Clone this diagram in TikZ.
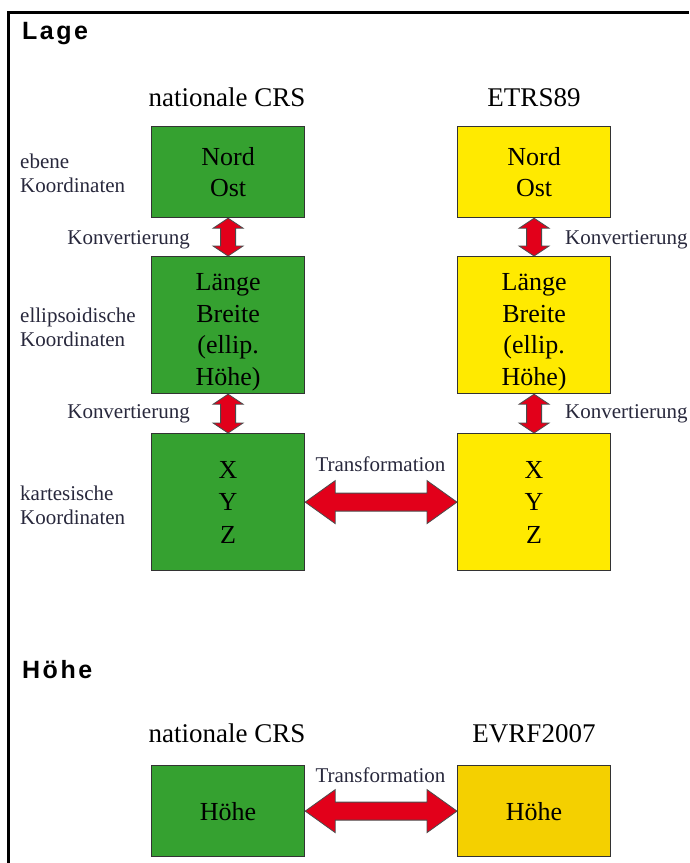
\documentclass[tikz,border=0pt]{standalone}
\usepackage{fontspec}
\setmainfont{Liberation Serif}
\newfontfamily\titlefont[LetterSpace=10]{Liberation Sans Bold}
\usetikzlibrary{calc}
\definecolor{boxgreen}{RGB}{53,161,48}
\definecolor{boxyellow}{RGB}{255,234,0}
\definecolor{boxgold}{RGB}{244,208,0}
\definecolor{arrowred}{RGB}{226,0,26}
\definecolor{labelcol}{RGB}{40,40,60}
\begin{document}
\begin{tikzpicture}[x=1pt,y=-1pt,
  crsbox/.style={draw=black!80,line width=1.2pt,minimum width=153pt,inner sep=0pt,anchor=north west,align=center,font=\fontsize{26}{31.5}\selectfont},
  gbox/.style={crsbox,fill=boxgreen},
  ybox/.style={crsbox,fill=boxyellow},
  boxtext/.style={inner sep=0pt,align=center,font=\fontsize{26}{31.5}\selectfont},
  head/.style={font=\fontsize{27}{30}\selectfont,anchor=base},
  lbl/.style={font=\fontsize{21}{24}\selectfont,text=labelcol,inner sep=0pt},
  sect/.style={font=\titlefont\fontsize{25}{27}\selectfont,anchor=base west,inner sep=0pt},
  redarrow/.style={fill=arrowred,draw=black!70,line width=0.8pt,line join=miter}
]
\useasboundingbox (0,0) rectangle (689,863);
% frame
\draw[line width=3pt] (8,863) -- (8,12) -- (689,12);

\node[sect] (lage) at (22,39) {Lage};
\node[sect] (hoehe) at (22,678) {Höhe};

% column heads
\node[head] (hn) at (227,106) {nationale CRS};
\node[head] (he) at (534,106) {ETRS89};

% boxes
\node[gbox,minimum height=91pt] (g1) at (151,126) {Nord\\Ost};
\node[gbox,minimum height=137pt] (g2) at (151,256) {};
\node[boxtext] (g2t) at ($(g2.center)+(0,7)$) {Länge\\Breite\\(ellip.\\Höhe)};
\node[gbox,minimum height=137pt] (g3) at (151,433) {X\\[1pt]Y\\[1pt]Z};
\node[ybox,minimum height=91pt] (y1) at (457,126) {Nord\\Ost};
\node[ybox,minimum height=137pt] (y2) at (457,256) {};
\node[boxtext] (y2t) at ($(y2.center)+(0,7)$) {Länge\\Breite\\(ellip.\\Höhe)};
\node[ybox,minimum height=137pt] (y3) at (457,433) {X\\[1pt]Y\\[1pt]Z};

% left labels
\node[lbl,anchor=base west,align=left] (l1) at (20,192) {ebene\\Koordinaten};
\node[lbl,anchor=base west,align=left] (l2) at (20,346) {ellipsoidische\\Koordinaten};
\node[lbl,anchor=base west,align=left] (l3) at (20,524) {kartesische\\Koordinaten};

% conversion labels
\node[lbl,anchor=base east] (k1) at (190,244) {Konvertierung};
\node[lbl,anchor=base east] (k2) at (190,418) {Konvertierung};
\node[lbl,anchor=base west] (k3) at (565,244) {Konvertierung};
\node[lbl,anchor=base west] (k4) at (565,418) {Konvertierung};

% vertical arrows
\foreach \a/\b in {g1/g2,g2/g3,y1/y2,y2/y3}{
  \draw[redarrow] (\a.south) -- ++(15,10) -- ++(-7.5,0) -- ($(\b.north)+(7.5,-10)$) -- ++(7.5,0) -- (\b.north)
     -- ++(-15,-10) -- ++(7.5,0) -- ($(\a.south)+(-7.5,10)$) -- ++(-7.5,0) -- cycle;
}

% horizontal arrow top
\draw[redarrow] (g3.east) -- ++(30,-21.5) -- ++(0,12.5) -- ($(y3.west)+(-30,-9)$) -- ++(0,-12.5) -- (y3.west)
   -- ++(-30,21.5) -- ++(0,-12.5) -- ($(g3.east)+(30,9)$) -- ++(0,12.5) -- cycle;
\node[lbl,anchor=base] (t1) at (380.5,471) {Transformation};

% Höhe section
\node[head] (hn2) at (227,742) {nationale CRS};
\node[head] (hv) at (534,742) {EVRF2007};
\node[gbox,minimum height=91pt] (gh) at (151,765) {Höhe};
\node[crsbox,fill=boxgold,minimum height=91pt] (yh) at (457,765) {Höhe};
\draw[redarrow] (gh.east) -- ++(30,-21.5) -- ++(0,12.5) -- ($(yh.west)+(-30,-9)$) -- ++(0,-12.5) -- (yh.west)
   -- ++(-30,21.5) -- ++(0,-12.5) -- ($(gh.east)+(30,9)$) -- ++(0,12.5) -- cycle;
\node[lbl,anchor=base] (t2) at (380.5,782) {Transformation};
\end{tikzpicture}
\end{document}
